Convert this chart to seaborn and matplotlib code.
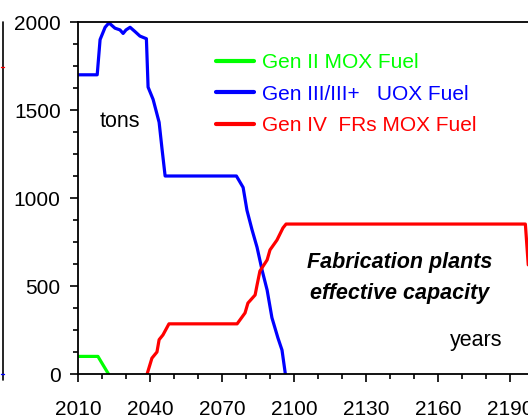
import matplotlib
matplotlib.use("Agg")
import matplotlib.pyplot as plt
from matplotlib.lines import Line2D
from matplotlib.ticker import MultipleLocator
import seaborn as sns
import pandas as pd

# ---- data ----
green_years = [2010, 2018.3, 2022.7]
green_vals = [100, 100, 0]

blue_years = [2010, 2018.0, 2019.2, 2020.4, 2021.3, 2022.9, 2025.4, 2027.5, 2028.8,
              2030.0, 2031.7, 2033.8, 2035.8, 2038.5, 2039.2, 2041.3, 2043.8, 2045.0,
              2046.3, 2076.0, 2078.8, 2080.4, 2082.5, 2084.6, 2086.7, 2088.8, 2090.8,
              2093.3, 2095.0, 2096.4]
blue_vals = [1700, 1700, 1900, 1940, 1970, 1995, 1965, 1955, 1935,
             1955, 1970, 1945, 1920, 1905, 1630, 1560, 1430, 1280,
             1125, 1125, 1060, 930, 820, 720, 590, 477, 320,
             205, 136, 0]

red_years = [2038.8, 2040.8, 2042.9, 2043.8, 2045.4, 2047.9, 2076.3, 2079.6, 2080.8,
             2083.8, 2084.6, 2085.8, 2088.8, 2090.0, 2092.9, 2095.4, 2096.7, 2196.4,
             2197.6]
red_vals = [0, 90, 125, 195, 222, 285, 285, 347, 403,
            449, 505, 585, 648, 705, 761, 830, 852, 852,
            620]

series_labels = ["Gen II MOX Fuel", "Gen III/III+   UOX Fuel", "Gen IV  FRs MOX Fuel"]
series_colors = ["#00FF00", "#0000FF", "#FF0000"]
x_ticks = [2010, 2040, 2070, 2100, 2130, 2160, 2190]
y_ticks = [0, 500, 1000, 1500, 2000]

sns.set_style("ticks")
plt.rcParams["font.family"] = ["Liberation Sans", "DejaVu Sans"]
plt.rcParams["text.color"] = "black"

W, H = 528, 418
fig = plt.figure(figsize=(W / 100, H / 100), dpi=100)
x0, x1 = 78, 78 + 190 * 2.4
y_top, y_bot = 22, 374
ax = fig.add_axes([x0 / W, 1 - y_bot / H, (x1 - x0) / W, (y_bot - y_top) / H])

frames = [
    pd.DataFrame({"year": green_years, "val": green_vals, "s": series_labels[0]}),
    pd.DataFrame({"year": blue_years, "val": blue_vals, "s": series_labels[1]}),
    pd.DataFrame({"year": red_years, "val": red_vals, "s": series_labels[2]}),
]
for df, col in zip(frames, series_colors):
    sns.lineplot(data=df, x="year", y="val", color=col, lw=2.3, ax=ax,
                 label=df["s"].iloc[0], sort=False, estimator=None)

ax.set_xlim(2010, 2200)
ax.set_ylim(0, 2000)
ax.set_xticks(x_ticks)
ax.set_yticks(y_ticks)
ax.xaxis.set_minor_locator(MultipleLocator(10))
ax.yaxis.set_minor_locator(MultipleLocator(125))
ax.set_xlabel("")
ax.set_ylabel("")
for sp in ["left", "top", "bottom", "right"]:
    ax.spines[sp].set_visible(True)
    ax.spines[sp].set_linewidth(1.3)
    ax.spines[sp].set_color("black")
ax.tick_params(axis="both", which="major", direction="out", length=5.5, width=1.2,
               labelsize=15, colors="black")
ax.tick_params(axis="both", which="minor", direction="out", length=3.5, width=1.2,
               colors="black")
ax.tick_params(axis="x", which="major", pad=13)
ax.tick_params(axis="y", which="major", pad=7)

leg = ax.legend(loc="upper left", bbox_to_anchor=(216 / W, 1 - 53 / H),
                bbox_transform=fig.transFigure, frameon=False, fontsize=15,
                handlelength=1.8, handletextpad=0.4, labelspacing=0.6,
                borderpad=0, borderaxespad=0)
for txt, col in zip(leg.get_texts(), series_colors):
    txt.set_color(col)
for h in leg.legend_handles:
    h.set_linewidth(3)

ax.text(2019.0, 1432, "tons", fontsize=15.5, va="center", ha="left", color="black")
ax.text(2165.0, 188, "years", fontsize=15.5, va="center", ha="left", color="black")
ax.text(2144, 636, "Fabrication plants", fontsize=15.5, fontweight="bold",
        fontstyle="italic", ha="center", va="center", color="black")
ax.text(2144, 460, "effective capacity", fontsize=15.5, fontweight="bold",
        fontstyle="italic", ha="center", va="center", color="black")

# fragment of neighbouring panel at left edge
fig.add_artist(Line2D([3 / W, 3 / W], [1 - 22 / H, 1 - 380 / H], color="black", lw=1.2))
fig.add_artist(Line2D([1 / W, 4 / W], [1 - 67 / H, 1 - 67 / H], color="red", lw=1))
fig.add_artist(Line2D([1 / W, 4 / W], [1 - 374 / H, 1 - 374 / H], color="blue", lw=1))

fig.savefig("out.png", dpi=100)
